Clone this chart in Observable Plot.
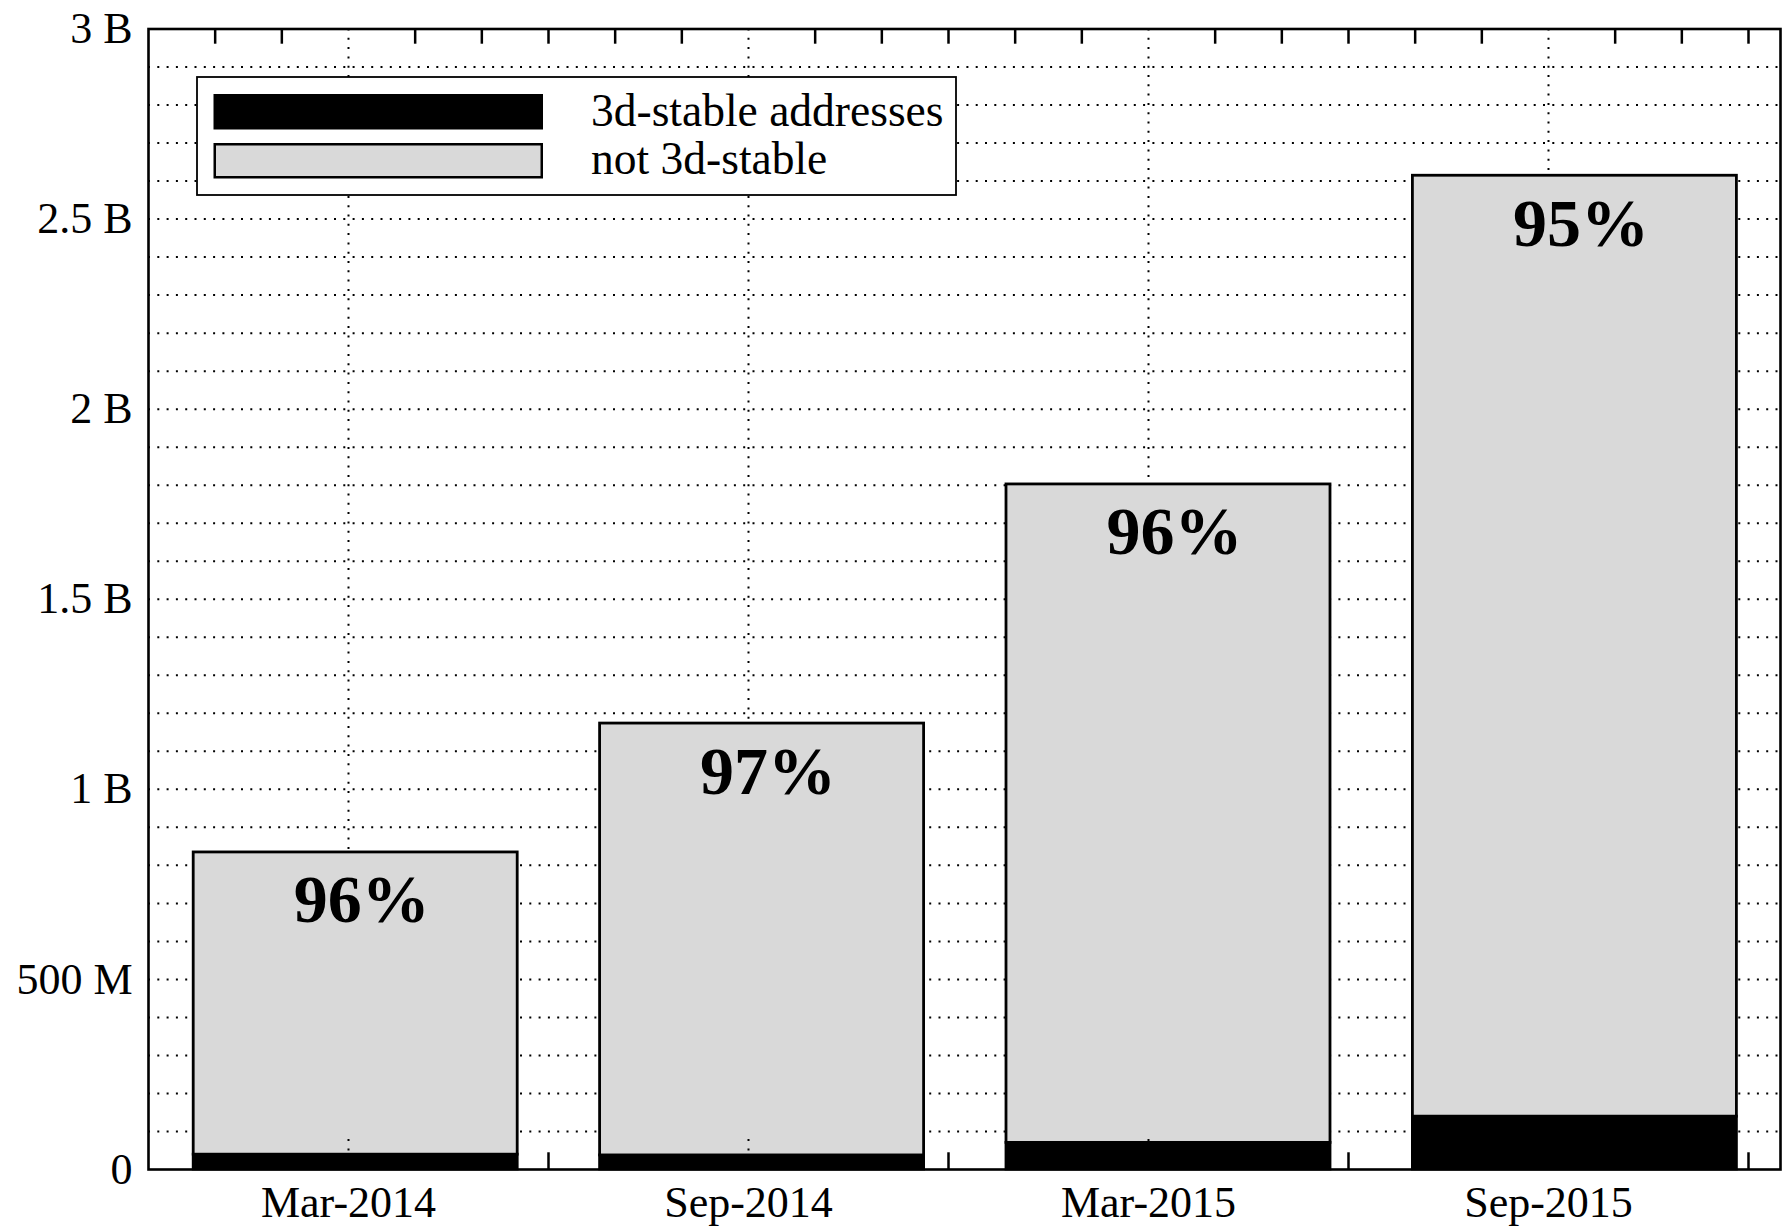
<!DOCTYPE html>
<html>
<head>
<meta charset="utf-8">
<script src="https://cdn.jsdelivr.net/npm/d3@7"></script>
<script src="https://cdn.jsdelivr.net/npm/@observablehq/plot@0.6"></script>
<style>
  html, body { margin: 0; padding: 0; background: #fff; }
  #chart { position: relative; width: 1789px; height: 1228px; }
  #legend { position: absolute; left: 196px; top: 76px; }
</style>
</head>
<body>
<div id="chart"></div>
<script>
// Address counts per snapshot (stacked: 3d-stable at the bottom, the rest above)
const periods = ["Mar-2014", "Sep-2014", "Mar-2015", "Sep-2015"];
const totalAddresses = [0.834e9, 1.173e9, 1.802e9, 2.614e9];
const stableAddresses = [39e6, 37e6, 70e6, 139e6];
const notStableShare = [96, 97, 96, 95];
const yTickValues = [0, 0.5e9, 1e9, 1.5e9, 2e9, 2.5e9, 3e9];
const yTickLabels = ["0", "500 M", "1 B", "1.5 B", "2 B", "2.5 B", "3 B"];
const seriesNames = ["3d-stable addresses", "not 3d-stable"];

const rows = periods.map((period, i) => ({
  period,
  i,
  stable: stableAddresses[i],
  total: totalAddresses[i],
  share: notStableShare[i]
}));

// Bar placement along the category axis (bars sit slightly right of each category tic)
const barMid = d => d.i * 1.016 + 0.018;
const halfWidth = 0.405;

const dotted = "2 7.3";
const serif = "Liberation Serif, Times New Roman, serif";
const gray = "#d9d9d9";

// Minor tics every sixth of a category, major tics (grid) at the categories
const minorX = d3.range(-2, 22).filter(k => k % 6 !== 0).map(k => k / 6);
const minorY = d3.range(1, 30).map(k => k * 1e8);
const categoryX = periods.map((_, i) => i);
const ticLen = 0.04e9;

const chart = Plot.plot({
  width: 1789,
  height: 1228,
  marginLeft: 148,
  marginRight: 9,
  marginTop: 28.5,
  marginBottom: 59,
  style: { fontFamily: serif, fontSize: "44px", background: "#fff", color: "#000" },
  x: { domain: [-0.5, 3.58] },
  y: { domain: [0, 3e9] },
  marks: [
    // dotted grid
    Plot.ruleY(minorY, { stroke: "#000", strokeWidth: 2, strokeDasharray: dotted }),
    Plot.ruleX(categoryX, { stroke: "#000", strokeWidth: 2, strokeDasharray: dotted }),
    // inward minor tics on top and bottom borders
    Plot.ruleX(minorX, { y1: 3e9, y2: 3e9 - ticLen, stroke: "#000", strokeWidth: 2.5 }),
    Plot.ruleX(minorX, { y1: 0, y2: ticLen * 1.1, stroke: "#000", strokeWidth: 2.5 }),
    // stacked bars
    Plot.rect(rows, {
      x1: d => barMid(d) - halfWidth, x2: d => barMid(d) + halfWidth,
      y1: d => 0, y2: "stable",
      fill: "#000", stroke: "#000", strokeWidth: 2.8
    }),
    Plot.rect(rows, {
      x1: d => barMid(d) - halfWidth, x2: d => barMid(d) + halfWidth,
      y1: "stable", y2: "total",
      fill: gray, stroke: "#000", strokeWidth: 2.8
    }),
    // short dotted major tic at the bottom, drawn over the bars
    Plot.ruleX(categoryX, { y1: 0, y2: 0.08e9, stroke: "#000", strokeWidth: 2, strokeDasharray: dotted }),
    // share labels
    Plot.text(rows, {
      x: barMid, y: "total", text: d => d.share + "%",
      lineAnchor: "bottom", dy: 70, dx: 6,
      fontSize: 68, fontWeight: "bold", fontFamily: serif, fill: "#000"
    }),
    // axes
    Plot.axisY({
      ticks: yTickValues,
      tickFormat: v => yTickLabels[yTickValues.indexOf(v)],
      tickSize: 0, tickPadding: 16, fontSize: 44, fontFamily: serif, label: null
    }),
    Plot.axisX({
      ticks: categoryX,
      tickFormat: i => periods[i],
      tickSize: 0, tickPadding: 16, fontSize: 44, fontFamily: serif, label: null
    }),
    Plot.frame({ stroke: "#000", strokeWidth: 2.6 })
  ]
});

const host = document.getElementById("chart");
host.appendChild(chart);

// Key, boxed in the upper-left corner of the plot area
const ns = "http://www.w3.org/2000/svg";
const key = document.createElementNS(ns, "svg");
key.setAttribute("id", "legend");
key.setAttribute("width", 762);
key.setAttribute("height", 122);
const swatchStyles = [
  { fill: "#000", stroke: "none" },
  { fill: gray, stroke: "#000" }
];
const box = document.createElementNS(ns, "rect");
Object.entries({ x: 1, y: 1, width: 759, height: 118, fill: "#fff", stroke: "#000", "stroke-width": 1.8 })
  .forEach(([k, v]) => box.setAttribute(k, v));
key.appendChild(box);
seriesNames.forEach((name, j) => {
  const r = document.createElementNS(ns, "rect");
  const s = swatchStyles[j];
  const top = j === 0 ? 18 : 67;
  const inset = s.stroke === "none" ? 0 : 1.25;
  Object.entries({
    x: 17.5 + inset, y: top + inset, width: 329.5 - 2 * inset, height: 35.5 - 2 * inset,
    fill: s.fill, stroke: s.stroke, "stroke-width": 2.5
  }).forEach(([k, v]) => r.setAttribute(k, v));
  key.appendChild(r);
  const t = document.createElementNS(ns, "text");
  t.setAttribute("x", 395);
  t.setAttribute("y", j === 0 ? 50 : 98);
  t.setAttribute("font-family", serif);
  t.setAttribute("font-size", 45.5);
  t.textContent = name;
  key.appendChild(t);
});
host.appendChild(key);
</script>
</body>
</html>
